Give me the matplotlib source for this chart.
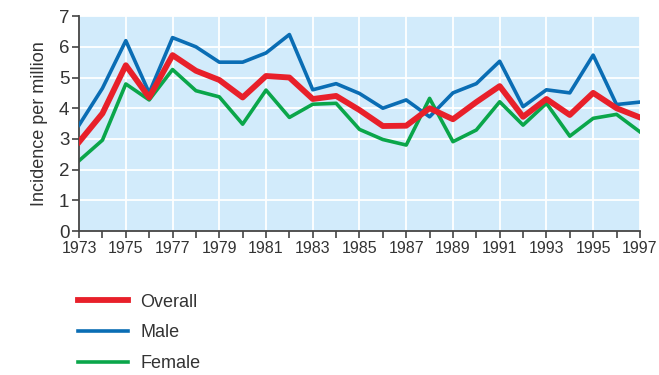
import matplotlib
matplotlib.use("Agg")
import matplotlib.pyplot as plt
from matplotlib.ticker import MultipleLocator, FixedLocator

years = list(range(1973, 1998))
overall = [2.9, 3.83, 5.4, 4.35, 5.73, 5.22, 4.92, 4.35, 5.05, 5.0, 4.3, 4.4,
           3.94, 3.42, 3.43, 4.0, 3.64, 4.2, 4.72, 3.72, 4.3, 3.78, 4.5, 4.0, 3.7]
male = [3.45, 4.65, 6.2, 4.5, 6.3, 6.0, 5.5, 5.5, 5.8, 6.4, 4.6, 4.8,
        4.48, 4.0, 4.27, 3.72, 4.5, 4.8, 5.53, 4.05, 4.6, 4.5, 5.73, 4.12, 4.2]
female = [2.29, 2.96, 4.79, 4.27, 5.26, 4.57, 4.37, 3.48, 4.59, 3.7, 4.13, 4.16,
          3.31, 2.98, 2.8, 4.32, 2.91, 3.29, 4.21, 3.45, 4.16, 3.09, 3.67, 3.8, 3.23]
labelled_years = years[::2]

plt.rcParams['font.family'] = ['Liberation Sans', 'DejaVu Sans']

fig = plt.figure(figsize=(6.59, 3.75), dpi=100)
ax = fig.add_axes([0.12, 0.384, 0.851, 0.573])
ax.set_facecolor('#d2ebfb')

ax.plot(years, overall, color='#e8202a', lw=4.2, label='Overall', zorder=4)
ax.plot(years, male, color='#0a6db4', lw=2.6, label='Male', zorder=3)
ax.plot(years, female, color='#0aa64a', lw=2.6, label='Female', zorder=2)

ax.set_xlim(1973, 1997)
ax.set_ylim(0, 7)
ax.xaxis.set_major_locator(FixedLocator(labelled_years))
ax.xaxis.set_minor_locator(MultipleLocator(1))
ax.yaxis.set_major_locator(MultipleLocator(1))
ax.grid(True, which='major', color='white', lw=1.3)
ax.set_axisbelow(True)

for s in ['top', 'right']:
    ax.spines[s].set_visible(False)
for s in ['left', 'bottom']:
    ax.spines[s].set_color('#444444')
    ax.spines[s].set_linewidth(1.3)

ax.tick_params(axis='both', which='both', colors='#444444', labelcolor='#333333',
               width=1.2, length=5)
ax.tick_params(axis='x', labelsize=11.5, pad=2)
ax.tick_params(axis='y', labelsize=13.5, pad=2)
ax.set_ylabel('Incidence per million', fontsize=13, color='#333333', labelpad=8)

fig.legend(loc='upper left', bbox_to_anchor=(0.094, 0.26), frameon=False,
           fontsize=13, handlelength=2.75, handletextpad=0.7, labelspacing=0.76,
           labelcolor='#333333')

fig.savefig('out.png', dpi=100)
